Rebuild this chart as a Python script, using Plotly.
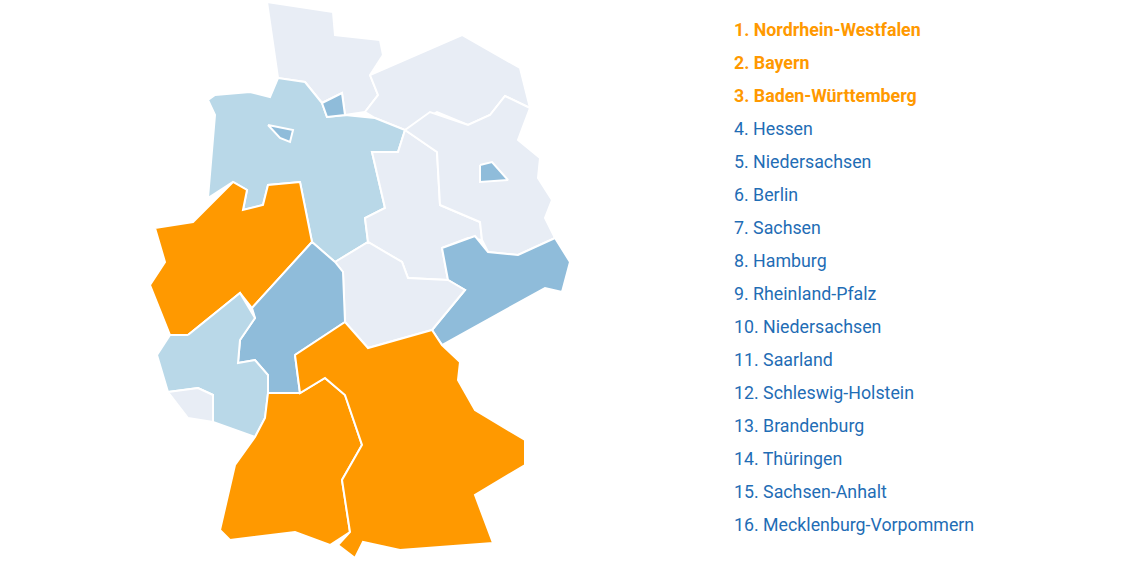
import plotly.graph_objects as go

ORANGE = "#FF9900"; MID = "#8FBCDA"; LIGHT = "#B9D8E8"; GREY = "#E8EDF5"

states = {
 "Schleswig-Holstein": (GREY, [(267,2),(333,12),(335,35),(380,40),(383,55),(370,75),(378,95),(365,112),(345,115),(342,93),(322,103),(305,82),(278,78)]),
 "Mecklenburg-Vorpommern": (GREY, [(370,75),(462,35),(520,68),(530,108),(505,96),(490,115),(468,125),(437,112),(405,130),(375,118),(365,112),(378,95)]),
 "Niedersachsen": (LIGHT, [(208,100),(215,95),(250,92),(270,97),(278,78),(305,82),(322,103),(327,117),(345,115),(375,118),(405,130),(398,152),(372,152),(385,208),(365,218),(368,242),(335,262),(312,242),(300,182),(268,185),(263,205),(243,210),(247,190),(233,182),(208,198),(215,115)]),
 "Hamburg": (MID, [(322,103),(342,93),(345,115),(327,117)]),
 "Bremen": (MID, [(268,125),(293,130),(290,142),(280,138)]),
 "Sachsen-Anhalt": (GREY, [(405,130),(437,152),(440,205),(480,222),(482,240),(468,238),(442,248),(448,280),(408,278),(402,262),(368,242),(365,218),(385,208),(372,152),(398,152)]),
 "Brandenburg": (GREY, [(405,130),(430,112),(468,125),(490,115),(505,96),(530,108),(518,140),(540,158),(538,178),(552,200),(545,218),(555,238),(518,255),(488,252),(482,240),(480,222),(440,205),(437,152)]),
 "Berlin": (MID, [(480,165),(492,162),(508,180),(480,182)]),
 "Sachsen": (MID, [(442,248),(468,238),(475,236),(488,252),(518,255),(555,238),(570,262),(562,292),(545,288),(442,345),(432,330),(465,290),(448,280)]),
 "Thüringen": (GREY, [(335,262),(368,242),(402,262),(408,278),(448,280),(465,290),(432,330),(368,348),(345,322),(343,272)]),
 "Nordrhein-Westfalen": (ORANGE, [(155,228),(193,222),(233,182),(247,190),(243,210),(263,205),(268,185),(300,182),(312,242),(252,308),(240,293),(188,335),(170,335),(150,285),(165,262)]),
 "Hessen": (MID, [(312,242),(335,262),(343,272),(345,322),(295,355),(300,393),(268,393),(268,375),(255,360),(238,363),(240,340),(255,318),(252,308)]),
 "Rheinland-Pfalz": (LIGHT, [(188,335),(240,293),(255,318),(240,340),(238,363),(255,360),(268,375),(268,393),(265,418),(255,437),(213,422),(213,395),(198,388),(168,392),(157,355),(170,335)]),
 "Saarland": (GREY, [(168,392),(198,388),(213,395),(213,422),(188,418)]),
 "Baden-Württemberg": (ORANGE, [(268,393),(300,393),(325,378),(345,395),(362,445),(342,480),(350,532),(330,545),(295,532),(230,540),(220,530),(235,465),(255,437),(265,418)]),
 "Bayern": (ORANGE, [(295,355),(345,322),(368,348),(432,330),(442,345),(460,362),(458,380),(475,410),(525,440),(525,465),(475,495),(493,543),(400,550),(363,542),(355,558),(338,545),(350,532),(342,480),(362,445),(345,395),(325,378),(300,393)]),
}

ranking = ["Nordrhein-Westfalen","Bayern","Baden-Württemberg","Hessen","Niedersachsen","Berlin","Sachsen","Hamburg",
           "Rheinland-Pfalz","Niedersachsen","Saarland","Schleswig-Holstein","Brandenburg","Thüringen","Sachsen-Anhalt","Mecklenburg-Vorpommern"]

fig = go.Figure()
for name, (col, pts) in states.items():
    xs = [p[0] for p in pts] + [pts[0][0]]
    ys = [p[1] for p in pts] + [pts[0][1]]
    fig.add_trace(go.Scatter(x=xs, y=ys, fill="toself", fillcolor=col, mode="lines",
                             line=dict(color="white", width=2), hoverinfo="text", text=name, showlegend=False))

for i, name in enumerate(ranking):
    top = i < 3
    fig.add_annotation(x=732, y=29 + i*33, xref="x", yref="y", xanchor="left", yanchor="middle",
                       showarrow=False, text=(f"<b>{i+1}. {name}</b>" if top else f"{i+1}. {name}"),
                       font=dict(family="Roboto", size=17.8, color=ORANGE if top else "#1F6DB5"))

fig.update_xaxes(range=[0,1140], visible=False, fixedrange=True)
fig.update_yaxes(range=[561,0], visible=False, fixedrange=True)
fig.update_layout(width=1140, height=561, margin=dict(l=0,r=0,t=0,b=0),
                  plot_bgcolor="white", paper_bgcolor="white")
fig.write_html("out.html", config={"displayModeBar": False},
               post_script="document.body.style.margin='0';")
